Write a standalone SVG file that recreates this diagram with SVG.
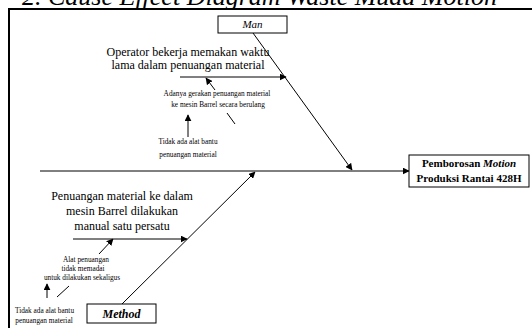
<svg xmlns="http://www.w3.org/2000/svg" width="532" height="328" viewBox="0 0 532 328" font-family="'Liberation Serif', 'Times New Roman', serif">
<style>
text{font-family:'Liberation Serif','Times New Roman',serif;fill:#000}
.c{text-anchor:middle}
.big{font-size:12px}
.sm{font-size:7.3px}
.box{fill:#fff;stroke:#000;stroke-width:1}
.ln{stroke:#000;stroke-width:1;fill:none}
.ar{stroke:#000;stroke-width:1;fill:none;marker-end:url(#ah)}
</style>
<defs>
<marker id="ah" viewBox="0 0 10 10" refX="9" refY="5" markerWidth="7" markerHeight="7" markerUnits="userSpaceOnUse" orient="auto">
<path d="M0,0 L10,5 L0,10 z" fill="#000"/>
</marker>
</defs>
<rect width="532" height="328" fill="#fff"/>
<text x="22" y="5" font-family="Liberation Serif, serif" font-size="26" font-style="italic">2. Cause Effect Diagram Waste Muda Motion</text>
<rect x="9" y="9" width="600" height="400" fill="none" stroke="#000" stroke-width="2"/>

<g id="connectors">
<line class="ar" x1="40" y1="171" x2="409" y2="171"/>
<line class="ar" x1="253" y1="33" x2="352" y2="170"/>
<line class="ar" x1="122" y1="304" x2="255" y2="172"/>
<line class="ar" x1="180" y1="77" x2="286" y2="77"/>
<line class="ar" x1="215" y1="90" x2="206" y2="78"/>
<line class="ln" x1="227" y1="113" x2="235" y2="124"/>
<line class="ar" x1="188" y1="137" x2="188" y2="115"/>
<line class="ar" x1="73" y1="239" x2="187" y2="239"/>
<line class="ar" x1="99" y1="254" x2="113" y2="239"/>
<line class="ln" x1="57" y1="297" x2="69" y2="286"/>
<line class="ar" x1="47" y1="298" x2="47" y2="284"/>
</g>

<g id="man" font-family="Liberation Serif, serif">
<rect class="box" x="218" y="16" width="69" height="17"/>
<text class="c" x="252.5" y="28" font-size="11" font-style="italic">Man</text>
</g>

<g id="method" font-family="Liberation Serif, serif">
<rect class="box" x="87" y="304" width="69" height="19"/>
<text class="c" x="121.5" y="318" font-size="12" font-style="italic" font-weight="bold">Method</text>
</g>

<g id="effect" font-family="Liberation Serif, serif">
<rect class="box" x="409" y="155" width="120" height="32"/>
<text class="c" x="469" y="167" font-size="11" font-weight="bold">Pemborosan <tspan font-style="italic">Motion</tspan></text>
<text class="c" x="469" y="182" font-size="11" font-weight="bold">Produksi Rantai 428H</text>
</g>

<g id="man-cause-1" font-family="Liberation Serif, serif">
<text class="c big" x="188" y="56">Operator bekerja memakan waktu</text>
<text class="c big" x="188" y="69">lama dalam penuangan material</text>
</g>

<g id="man-cause-2" font-family="Liberation Serif, serif">
<text class="c sm" x="217" y="96">Adanya gerakan penuangan material</text>
<text class="c sm" x="218" y="107">ke mesin Barrel secara berulang</text>
</g>

<g id="man-cause-3" font-family="Liberation Serif, serif">
<text class="c sm" x="188" y="144">Tidak ada alat bantu</text>
<text class="c sm" x="188" y="157">penuangan material</text>
</g>

<g id="method-cause-1" font-family="Liberation Serif, serif">
<text class="c big" x="122" y="200">Penuangan material ke dalam</text>
<text class="c big" x="122" y="215">mesin Barrel dilakukan</text>
<text class="c big" x="122" y="230">manual satu persatu</text>
</g>

<g id="method-cause-2" font-family="Liberation Serif, serif">
<text class="c sm" x="86" y="262">Alat penuangan</text>
<text class="c sm" x="83" y="271">tidak memadai</text>
<text class="c sm" x="82" y="280">untuk dilakukan sekaligus</text>
</g>

<g id="method-cause-3" font-family="Liberation Serif, serif">
<text class="c sm" x="44.5" y="313">Tidak ada alat bantu</text>
<text class="c sm" x="44" y="323">penuangan material</text>
</g>
</svg>
